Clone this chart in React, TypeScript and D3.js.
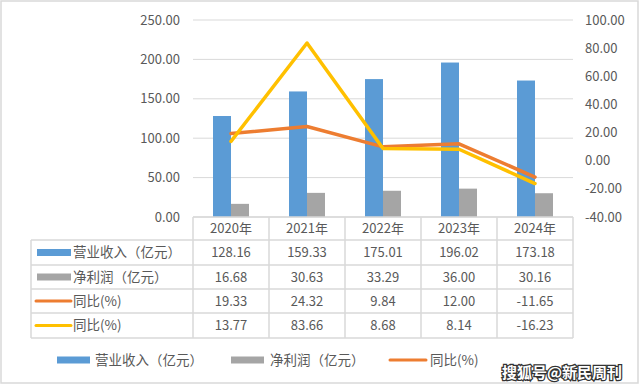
import * as d3 from "d3";

const years = ["2020年", "2021年", "2022年", "2023年", "2024年"];
const revenue = [128.16, 159.33, 175.01, 196.02, 173.18];
const profit = [16.68, 30.63, 33.29, 36.0, 30.16];
const revenueYoY = [19.33, 24.32, 9.84, 12.0, -11.65];
const profitYoY = [13.77, 83.66, 8.68, 8.14, -16.23];
const leftTicks = [0, 50, 100, 150, 200, 250];
const rightTicks = [-40, -20, 0, 20, 40, 60, 80, 100];

const rows = [
  { label: "营业收入（亿元）", values: revenue, color: "#5b9bd5", kind: "bar" },
  { label: "净利润（亿元）", values: profit, color: "#a5a5a5", kind: "bar" },
  { label: "同比(%)", values: revenueYoY, color: "#ed7d31", kind: "line" },
  { label: "同比(%)", values: profitYoY, color: "#ffc000", kind: "line" },
];

const W = 640;
const H = 385;
const plotL = 193;
const plotR = 573;
const plotT = 20;
const plotB = 217;
const tableL = 31;
const rowEdges = [217, 240, 265, 289, 313, 338];
const textColor = "#595959";
const gridColor = "#d9d9d9";
const font = "'Noto Sans CJK SC', 'Noto Sans', sans-serif";

export default function App() {
  const x = d3.scaleBand<string>().domain(years).range([plotL, plotR]);
  const yL = d3.scaleLinear().domain([0, 250]).range([plotB, plotT]);
  const yR = d3.scaleLinear().domain([-40, 100]).range([plotB, plotT]);
  const barW = 18;
  const cx = (d: string) => (x(d) ?? 0) + x.bandwidth() / 2;

  const line = d3
    .line<number>()
    .x((_, i) => cx(years[i]))
    .y((v) => yR(v));

  return (
    <svg
      width={W}
      height={H}
      style={{ position: "absolute", left: 0, top: 0, fontFamily: font }}
    >
      <rect x={0} y={0} width={W} height={H} fill="#fff" />
      <rect x={1} y={1} width={W - 3} height={H - 3} fill="none" stroke={gridColor} strokeWidth={1.5} />

      {/* gridlines */}
      {leftTicks.map((t) => (
        <line key={t} x1={plotL} x2={plotR} y1={yL(t)} y2={yL(t)} stroke={gridColor} strokeWidth={1} />
      ))}

      {/* left axis labels */}
      {leftTicks.map((t) => (
        <text key={t} x={180} y={yL(t)} dy="0.35em" textAnchor="end" fontSize={13} fill={textColor}>
          {t.toFixed(2)}
        </text>
      ))}
      {/* right axis labels */}
      {rightTicks.map((t) => (
        <text key={t} x={585} y={yR(t)} dy="0.35em" textAnchor="start" fontSize={13} fill={textColor}>
          {t.toFixed(2)}
        </text>
      ))}

      {/* bars */}
      {years.map((yr, i) => (
        <g key={yr}>
          <rect x={cx(yr) - barW} y={yL(revenue[i])} width={barW} height={plotB - yL(revenue[i])} fill="#5b9bd5" />
          <rect x={cx(yr)} y={yL(profit[i])} width={barW} height={plotB - yL(profit[i])} fill="#a5a5a5" />
        </g>
      ))}

      {/* lines */}
      <path d={line(revenueYoY) ?? ""} fill="none" stroke="#ed7d31" strokeWidth={3.5} strokeLinejoin="round" strokeLinecap="round" />
      <path d={line(profitYoY) ?? ""} fill="none" stroke="#ffc000" strokeWidth={3.5} strokeLinejoin="round" strokeLinecap="round" />

      {/* data table */}
      <g stroke={gridColor} strokeWidth={1.5} fill="none">
        <line x1={plotL} x2={plotR} y1={rowEdges[0]} y2={rowEdges[0]} />
        {rowEdges.slice(1).map((ry) => (
          <line key={ry} x1={tableL} x2={plotR} y1={ry} y2={ry} />
        ))}
        <line x1={tableL} x2={tableL} y1={rowEdges[1]} y2={rowEdges[5]} />
        {years.map((yr) => (
          <line key={yr} x1={x(yr)} x2={x(yr)} y1={rowEdges[0]} y2={rowEdges[5]} />
        ))}
        <line x1={plotR} x2={plotR} y1={rowEdges[0]} y2={rowEdges[5]} />
      </g>
      {years.map((yr) => (
        <text key={yr} x={cx(yr)} y={(rowEdges[0] + rowEdges[1]) / 2} dy="0.35em" textAnchor="middle" fontSize={13} fill={textColor}>
          {yr}
        </text>
      ))}
      {rows.map((r, ri) => {
        const my = (rowEdges[ri + 1] + rowEdges[ri + 2]) / 2;
        return (
          <g key={ri}>
            {r.kind === "bar" ? (
              <rect x={37} y={my - 3.5} width={34} height={7} fill={r.color} />
            ) : (
              <line x1={36} x2={71} y1={my} y2={my} stroke={r.color} strokeWidth={3} strokeLinecap="round" />
            )}
            <text x={73} y={my} dy="0.35em" fontSize={13.5} fill={textColor}>
              {r.label}
            </text>
            {r.values.map((v, i) => (
              <text key={i} x={cx(years[i])} y={my} dy="0.35em" textAnchor="middle" fontSize={13} fill={textColor}>
                {v.toFixed(2)}
              </text>
            ))}
          </g>
        );
      })}

      {/* legend */}
      <rect x={57} y={356.5} width={33} height={7} fill="#5b9bd5" />
      <text x={95} y={360} dy="0.35em" fontSize={13.5} fill={textColor}>营业收入（亿元）</text>
      <rect x={231} y={356.5} width={33} height={7} fill="#a5a5a5" />
      <text x={270} y={360} dy="0.35em" fontSize={13.5} fill={textColor}>净利润（亿元）</text>
      <line x1={390} x2={426} y1={360} y2={360} stroke="#ed7d31" strokeWidth={3} strokeLinecap="round" />
      <text x={430} y={360} dy="0.35em" fontSize={13.5} fill={textColor}>同比(%)</text>

      {/* watermark */}
      <text x={502} y={373} dy="0.35em" fontSize={15} fontWeight="bold" fill="#fff" stroke="#333" strokeWidth={2.5} paintOrder="stroke">
        搜狐号@新民周刊
      </text>
    </svg>
  );
}
